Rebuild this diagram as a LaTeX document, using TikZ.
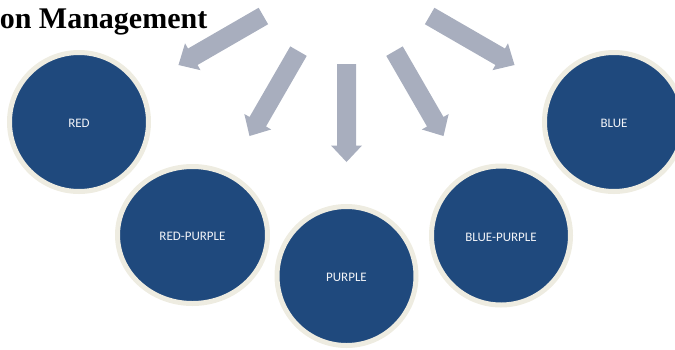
\documentclass[tikz,border=0pt]{standalone}
\usepackage{fontspec}
\setmainfont{Liberation Serif}
\newfontfamily\labelfont{Carlito}
\usetikzlibrary{calc,shapes.geometric}
\definecolor{circblue}{RGB}{31,73,125}
\definecolor{circrim}{RGB}{238,236,225}
\definecolor{arrowgray}{RGB}{168,174,190}
\definecolor{labelwhite}{RGB}{242,244,248}
\tikzset{
  labeltext/.style={text=labelwhite, font=\labelfont\fontsize{13}{15}\selectfont, text height=11.5pt, text depth=0pt},
  colorball/.style={circle, fill=circblue, draw=circrim, line width=5pt, inner sep=0pt,
    minimum size=139pt, labeltext},
  coloroval/.style={ellipse, fill=circblue, draw=circrim, line width=5pt, inner sep=0pt,
    minimum width=150pt, minimum height=137pt, labeltext},
  blockarrow/.style={fill=arrowgray, draw=none},
  titletext/.style={font=\bfseries\fontsize{30}{34}\selectfont, inner sep=0pt}
}
\begin{document}
\begin{tikzpicture}[x=1pt,y=-1pt]
\useasboundingbox (0,0) rectangle (675,349);
\begin{scope}
\clip (0,0) rectangle (675,349);
\node[titletext, anchor=base east] (title) at (207.5,28.5) {on Management};
\coordinate (C) at (346.5,-32);
\foreach \a/\n in {150/a1,120/a2,90/a3,60/a4,30/a5}{
  \fill[blockarrow] ($(C)+(\a:96)+(\a+90:9.5)$) -- ($(C)+(\a:177.5)+(\a+90:9.5)$)
    -- ($(C)+(\a:177.5)+(\a+90:15.5)$) -- ($(C)+(\a:194)$)
    -- ($(C)+(\a:177.5)+(\a-90:15.5)$) -- ($(C)+(\a:177.5)+(\a-90:9.5)$)
    -- ($(C)+(\a:96)+(\a-90:9.5)$) -- cycle;
}
\node[colorball] (red) at (79,122) {RED};
\node[coloroval] (redpurple) at (192.5,235) {RED-PURPLE};
\node[colorball] (purple) at (346.5,276) {PURPLE};
\node[colorball] (bluepurple) at (501,235.5) {BLUE-PURPLE};
\node[colorball] (blue) at (614,122) {BLUE};
\end{scope}
\end{tikzpicture}
\end{document}
